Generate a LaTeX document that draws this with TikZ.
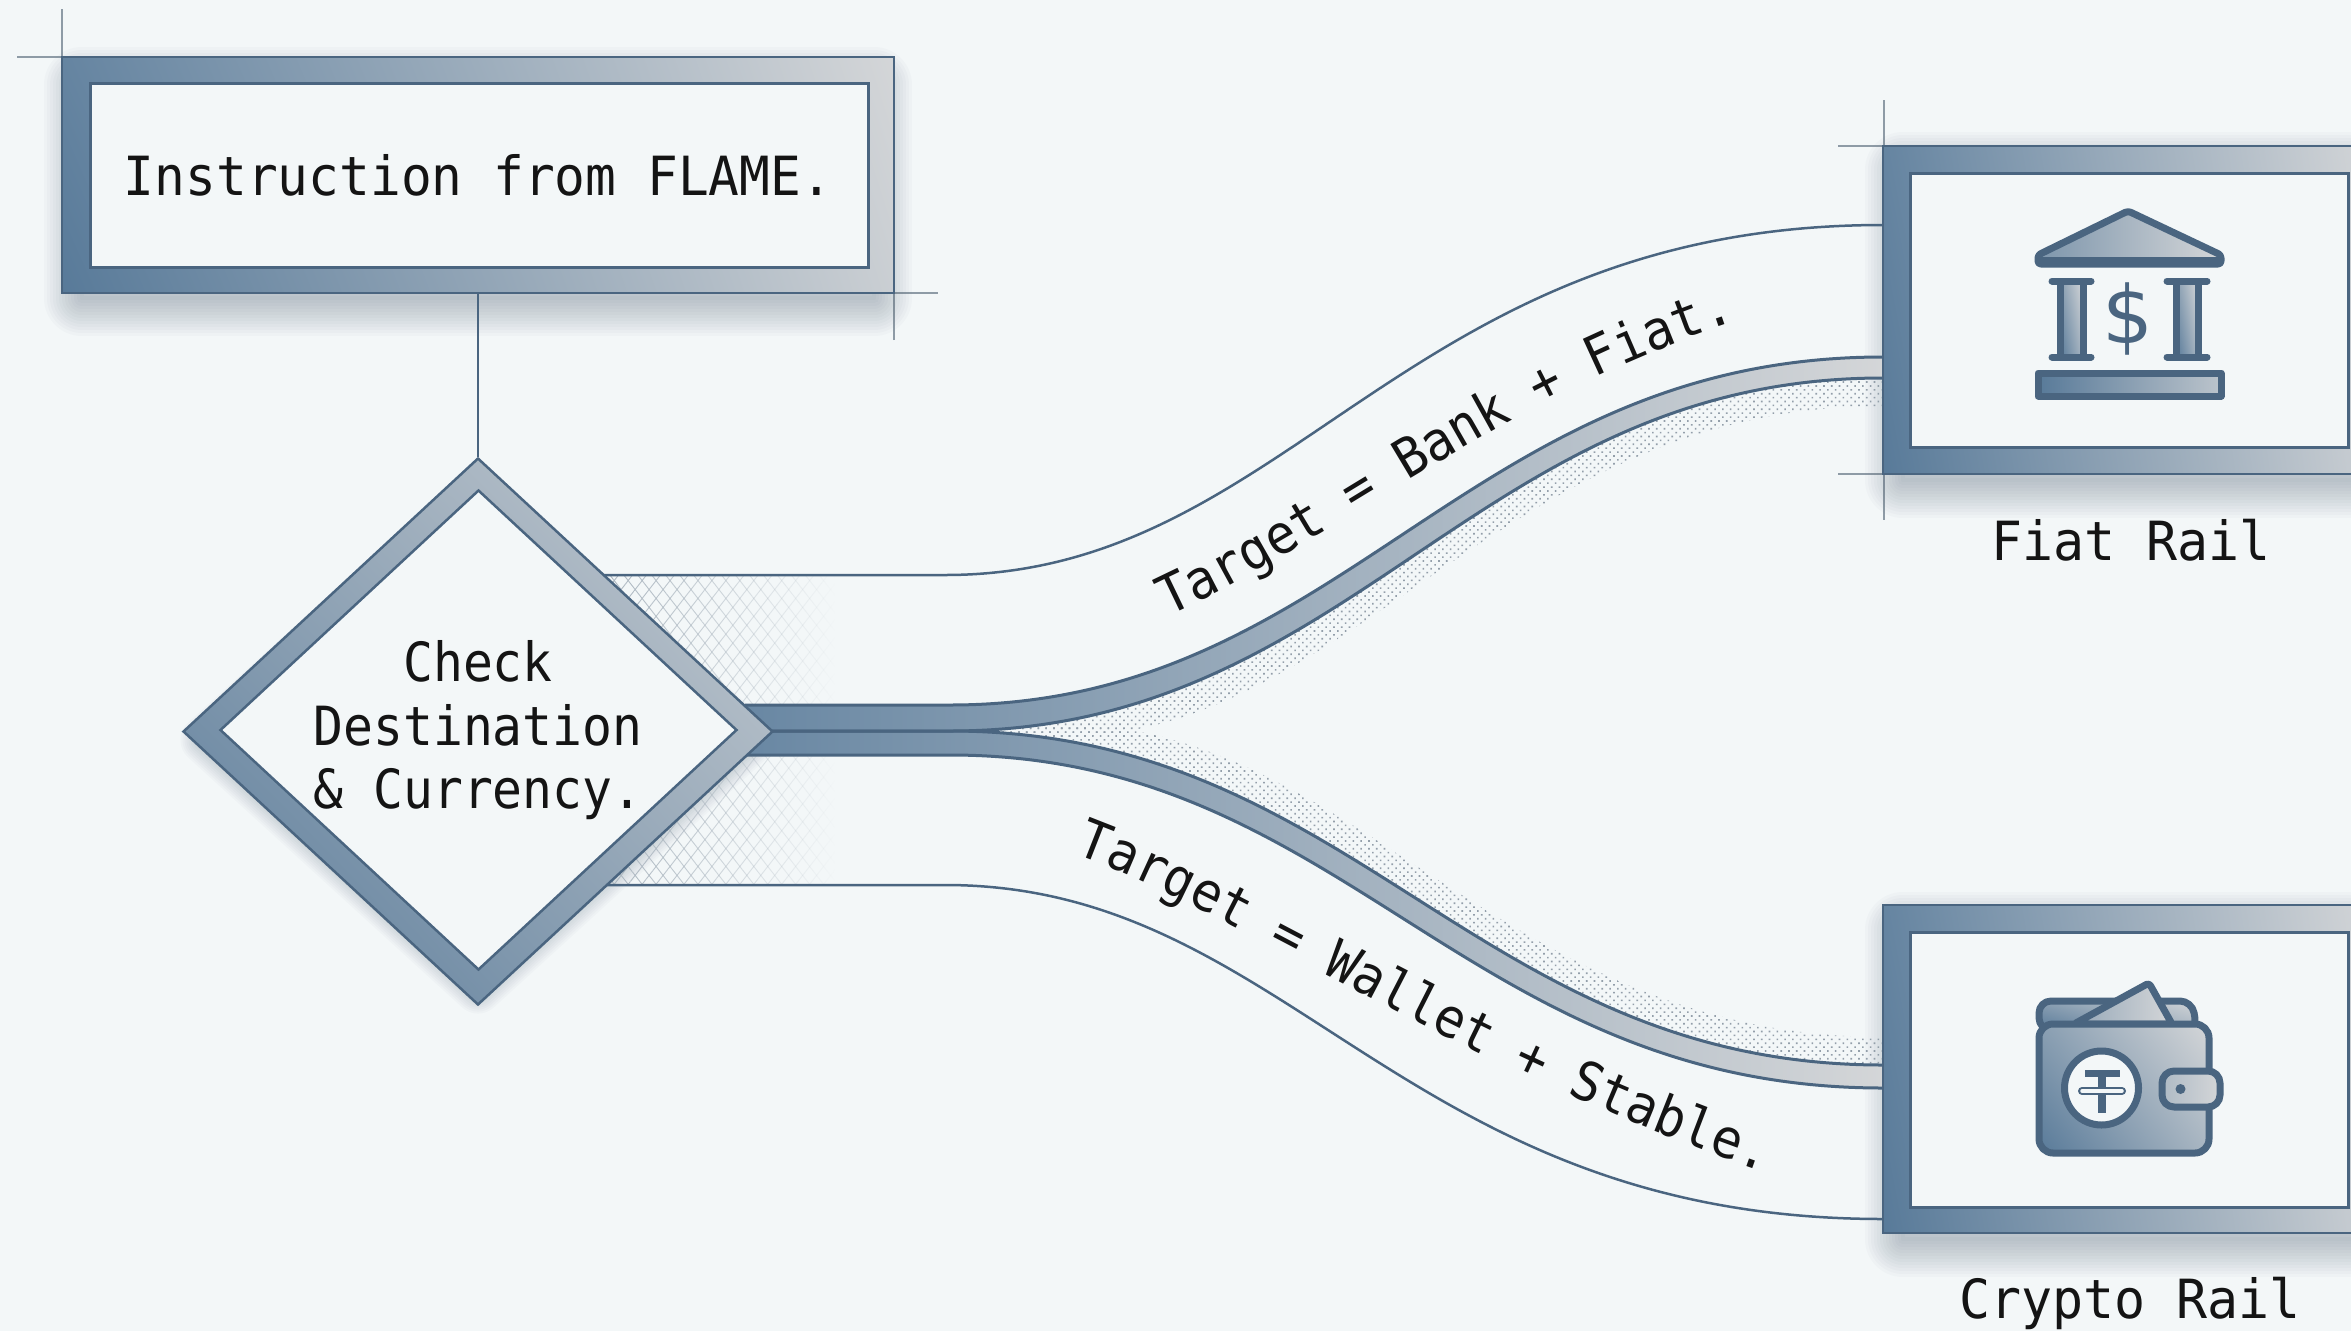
\documentclass[tikz,border=0pt]{standalone}
\usepackage{fontspec}
\usetikzlibrary{shapes.geometric,shadings,fadings,patterns.meta,decorations.text}
\newfontfamily\monoBase[FakeStretch=0.947]{DejaVu Sans Mono}
\newfontfamily\monoRail[FakeStretch=0.955]{DejaVu Sans Mono}
\newfontfamily\monoDia[FakeStretch=0.92]{DejaVu Sans Mono}
\newfontfamily\monoLblA[FakeStretch=0.94]{DejaVu Sans Mono}
\newfontfamily\monoLblB[FakeStretch=0.935]{DejaVu Sans Mono}
\newfontfamily\iconFont{DejaVu Sans}
\newcommand{\bodyfont}{\monoBase\fontsize{54}{63.5}\selectfont}
\newcommand{\railfont}{\monoRail\fontsize{54}{63.5}\selectfont}
\newcommand{\diafont}{\monoDia\fontsize{54}{63.5}\selectfont}
\newcommand{\softshadow}[2]{\foreach \g in {#1}{\draw[shadowink,opacity=.032,line width=\g pt,line join=round] #2;}}
\definecolor{pagebg}{HTML}{F3F7F8}
\definecolor{ink}{HTML}{141414}
\definecolor{edge}{HTML}{4A6580}
\definecolor{shadowink}{HTML}{56697B}
\definecolor{darkblue}{HTML}{587A99}
\definecolor{lightgrey}{HTML}{D4D6D8}
\definecolor{hatchink}{HTML}{939FAA}
\definecolor{latticeink}{HTML}{A9B4BE}
\definecolor{markink}{HTML}{8E9BA6}
\tikzset{
 frameouter/.style={rectangle,draw=edge,line width=2.5pt,inner sep=0pt,
   upper left=darkblue!92!white,upper right=lightgrey,lower left=darkblue,lower right=lightgrey!92!darkblue},
 frameinner/.style={rectangle,draw=edge,line width=3pt,fill=pagebg,inner sep=0pt},
 diaouter/.style={diamond,draw=edge,line width=2.5pt,inner sep=0pt,
   upper left=darkblue!55!lightgrey,upper right=lightgrey!90!darkblue,lower left=darkblue,lower right=darkblue!50!lightgrey},
 diainner/.style={diamond,draw=edge,line width=2.5pt,fill=pagebg,inner sep=0pt},
 monotext/.style={font=\bodyfont,text=ink,inner sep=0pt},
 oneline/.style={monotext,text height=40pt,text depth=0pt},
 thinlink/.style={draw=edge,line width=2.5pt},
 bandedge/.style={draw=edge,line width=3pt},
 crossmark/.style={draw=markink,line width=1.5pt},
 hatchfine/.style={pattern={Dots[distance=5.5pt,radius=1.15pt,angle=45]},pattern color=hatchink},
 hatchA/.style={pattern={Lines[angle=52,distance=11pt,line width=.9pt]},pattern color=latticeink,path fading=east},
 hatchB/.style={pattern={Lines[angle=-52,distance=11pt,line width=.9pt]},pattern color=latticeink,path fading=east},
 iconline/.style={draw=edge,line width=7pt,line join=round},
 iconfill/.style={upper left=darkblue!60!lightgrey,upper right=lightgrey,lower left=darkblue,lower right=darkblue!35!lightgrey},
}
\begin{document}
\begin{tikzpicture}[x=1pt,y=-1pt]
\useasboundingbox (0,0) rectangle (2351,1331);
\clip (0,0) rectangle (2351,1331);
\fill[pagebg] (0,0) rectangle (2351,1331);

% crop marks
\coordinate (tlA) at (62,9); \coordinate (tlB) at (62,57); \coordinate (tlC) at (17,57);
\coordinate (brA) at (894,340); \coordinate (brB) at (894,293); \coordinate (brC) at (938,293);
\draw[crossmark] (tlA) -- (tlB) -- (tlC);
\draw[crossmark] (brA) -- (brB) -- (brC);
\coordinate (fmA) at (1884,100); \coordinate (fmB) at (1884,520);
\coordinate (fmC) at (1838,146); \coordinate (fmD) at (1884,146);
\coordinate (fmE) at (1838,474); \coordinate (fmF) at (1884,474);
\draw[crossmark] (fmA) -- (fmB);
\draw[crossmark] (fmC) -- (fmD);
\draw[crossmark] (fmE) -- (fmF);

% soft shadows
\softshadow{4,10,...,76}{(82,85) rectangle (874,298)}
\softshadow{4,10,...,76}{(1903,170) rectangle (2400,480)}
\softshadow{4,10,...,76}{(1903,930) rectangle (2400,1239)}
\softshadow{3,7,...,47}{(478,492) -- (752,740) -- (478,990) -- (204,740) -- cycle}

% connection points
\coordinate (dU) at (604,575);
\coordinate (dL) at (604,885);
\coordinate (fU) at (1883,225);
\coordinate (cL) at (1883,1219);
\coordinate (uA) at (945,575);
\coordinate (lA) at (945,885);
\coordinate (bStartT) at (745,705);
\coordinate (bStartM) at (745,731);
\coordinate (bStartB) at (745,755);
\coordinate (bKnotT) at (950,705);
\coordinate (bKnotM) at (950,731);
\coordinate (bKnotB) at (950,755);
\coordinate (fBandT) at (1883,357);
\coordinate (fBandB) at (1883,378);
\coordinate (cBandT) at (1883,1065);
\coordinate (cBandB) at (1883,1088);

% hatching
\fill[hatchA] (600,575) -- (835,575) -- (835,705) -- (740,705) -- cycle;
\fill[hatchB] (600,575) -- (835,575) -- (835,705) -- (740,705) -- cycle;
\fill[hatchA] (740,755) -- (835,755) -- (835,885) -- (600,885) -- cycle;
\fill[hatchB] (740,755) -- (835,755) -- (835,885) -- (600,885) -- cycle;
\fill[hatchfine] (bKnotM) .. controls (1355,731) and (1475,378) .. (fBandB) -- (1883,406)
  .. controls (1490,406) and (1340,760) .. (1030,736) -- cycle;
\fill[hatchfine] (bKnotM) .. controls (1355,731) and (1475,1065) .. (cBandT) -- (1883,1037)
  .. controls (1490,1037) and (1340,700) .. (1030,726) -- cycle;

% thin links
\draw[thinlink] (dU) -- (uA) .. controls (1290,575) and (1400,225) .. (fU);
\draw[thinlink] (dL) -- (lA) .. controls (1290,885) and (1400,1219) .. (cL);

% thick bands
\shade[left color=darkblue!90!white,right color=lightgrey]
  (bStartT) -- (bKnotT) .. controls (1345,705) and (1465,357) .. (fBandT) -- (fBandB)
  .. controls (1475,378) and (1355,731) .. (bKnotM) -- (bStartM) -- cycle;
\shade[left color=darkblue!90!white,right color=lightgrey]
  (bStartM) -- (bKnotM) .. controls (1355,731) and (1475,1065) .. (cBandT) -- (cBandB)
  .. controls (1465,1088) and (1345,755) .. (bKnotB) -- (bStartB) -- cycle;
\draw[bandedge] (bStartT) -- (bKnotT) .. controls (1345,705) and (1465,357) .. (fBandT);
\draw[bandedge] (bStartM) -- (bKnotM) .. controls (1355,731) and (1475,378) .. (fBandB);
\draw[bandedge] (bStartM) -- (bKnotM) .. controls (1355,731) and (1475,1065) .. (cBandT);
\draw[bandedge] (bStartB) -- (bKnotB) .. controls (1345,755) and (1465,1088) .. (cBandB);

% boxes
\node[frameouter,minimum width=832pt,minimum height=236pt] (instr) at (478,175) {};
\node[frameinner,minimum width=778pt,minimum height=184pt] (instrIn) at (479,175) {};
\node[oneline] (instrTxt) at (478,175.5) {Instruction from FLAME.};

\node[diaouter,minimum width=590pt,minimum height=547pt] (check) at (478,731.5) {};
\node[diainner,minimum width=517pt,minimum height=480pt] (checkIn) at (478.5,730) {};
\node[monotext,font=\diafont,align=center] (checkTxt) at (478,730.5) {Check\\Destination\\\& Currency.};
\draw[thinlink] (instr.south) -- (check.north);

\node[frameouter,minimum width=493pt,minimum height=328pt] (fiat) at (2129.5,310) {};
\node[frameinner,minimum width=438pt,minimum height=274pt] (fiatIn) at (2129,310) {};
\node[oneline,font=\railfont] (fiatLbl) at (2131,540) {Fiat Rail};

\node[frameouter,minimum width=493pt,minimum height=328pt] (crypto) at (2129.5,1069) {};
\node[frameinner,minimum width=438pt,minimum height=275pt] (cryptoIn) at (2129,1069.5) {};
\node[oneline,font=\railfont] (cryptoLbl) at (2130,1298) {Crypto Rail};

% curved labels
\coordinate (laA) at (1030,683); \coordinate (laB) at (1165,618); \coordinate (laC) at (1740,320); \coordinate (laD) at (1880,268);
\path[decorate,decoration={text along path,text align=center,
   text={|\monoLblA\fontsize{54}{60}\selectfont\color{ink}|Target = Bank + Fiat.}}]
  (laA) -- (laB) .. controls (1340,538) and (1500,398) .. (laC) -- (laD);
\coordinate (lbA) at (940,804); \coordinate (lbB) at (1075,854); \coordinate (lbC) at (1770,1174); \coordinate (lbD) at (1900,1219);
\path[decorate,decoration={text along path,text align=center,
   text={|\monoLblB\fontsize{54}{60}\selectfont\color{ink}|Target = Wallet + Stable.}}]
  (lbA) -- (lbB) .. controls (1250,919) and (1450,1064) .. (lbC) -- (lbD);

% bank icon
\shade[left color=darkblue!70!lightgrey,right color=lightgrey,iconline,rounded corners=3pt] (2128,211) -- (2221,255) -- (2221,264) -- (2038,264) -- (2038,255) -- cycle;
\draw[draw=edge,line width=10pt,line cap=round] (2040,262) -- (2219,262);
\shade[iconfill] (2060,281) rectangle (2083,357);
\draw[iconline] (2060,281) -- (2060,357) (2083,281) -- (2083,357);
\draw[iconline,line cap=round] (2052,281) -- (2091,281) (2052,357) -- (2091,357);
\shade[iconfill] (2176,281) rectangle (2198,357);
\draw[iconline] (2176,281) -- (2176,357) (2198,281) -- (2198,357);
\draw[iconline,line cap=round] (2167,281) -- (2207,281) (2167,357) -- (2207,357);
\node[text=edge,font=\iconFont\fontsize{80}{80}\selectfont,inner sep=0pt] (dollar) at (2128,319) {\$};
\shade[left color=darkblue,right color=lightgrey!80!darkblue,iconline] (2038,373) rectangle (2221,396);

% wallet icon
\shade[iconfill,iconline,rounded corners=12pt] (2039,1030) -- (2039,1001) -- (2192,1001) -- (2197,1030) -- cycle;
\shade[left color=darkblue!50!lightgrey,right color=lightgrey,iconline,rounded corners=3pt] (2074,1024) -- (2149,983) -- (2172,1024) -- cycle;
\shade[iconfill,iconline,rounded corners=14pt] (2039,1024) -- (2209,1024) -- (2209,1153) -- (2039,1153) -- cycle;
\draw[iconline,fill=pagebg] (2101.5,1088) circle (37pt);
\draw[draw=edge,line width=7pt] (2085,1073) -- (2120,1073);
\draw[draw=edge,line width=8pt] (2101.5,1073) -- (2101.5,1113);
\draw[draw=edge,line width=8pt,line cap=round] (2082,1091) -- (2122,1091);
\draw[draw=pagebg,line width=3.5pt,line cap=round] (2082,1091) -- (2122,1091);
\shade[left color=lightgrey!70!darkblue,right color=lightgrey,iconline,rounded corners=12pt] (2162,1071) -- (2220,1071) -- (2220,1107) -- (2162,1107) -- cycle;
\fill[edge] (2180.5,1089) circle (5pt);
\end{tikzpicture}
\end{document}
